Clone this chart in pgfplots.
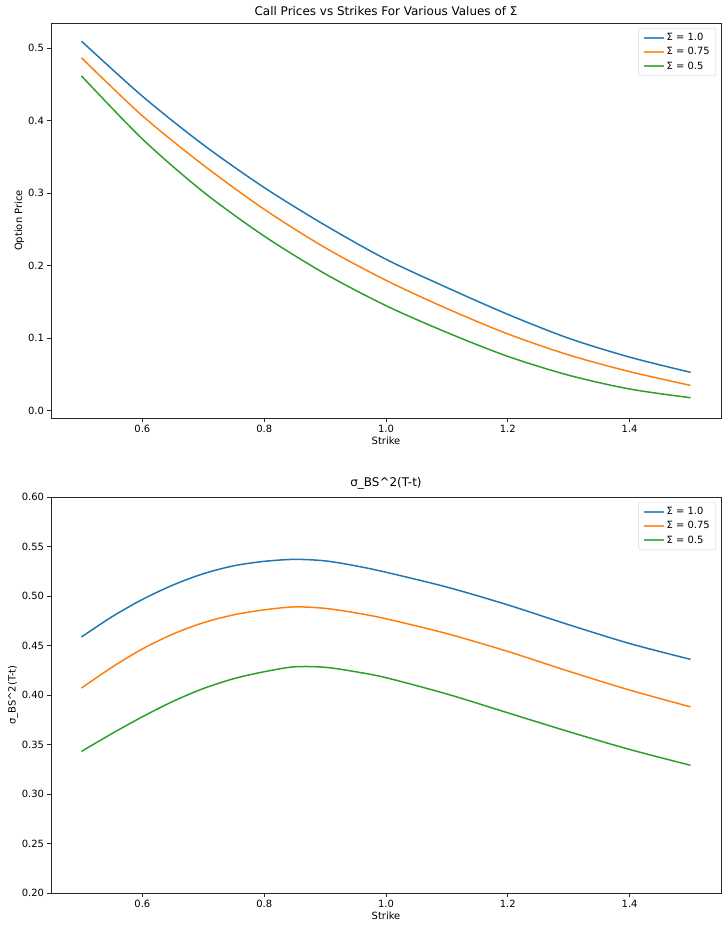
\documentclass[border=0pt]{standalone}
\usepackage{pgfplots}
\pgfplotsset{compat=1.18}
\usepackage{fontspec}
\setmainfont{DejaVu Sans}
\definecolor{tabblue}{HTML}{1F77B4}
\definecolor{taborange}{HTML}{FF7F0E}
\definecolor{tabgreen}{HTML}{2CA02C}
\pgfplotsset{
  mpl/.style={
    scale only axis, width=670bp, height=395bp,
    xmin=0.45, xmax=1.55,
    xtick={0.6,0.8,1.0,1.2,1.4},
    xticklabel style={/pgf/number format/.cd, fixed, fixed zerofill, precision=1},
    xtick pos=bottom, ytick pos=left,
    tick align=outside, major tick length=3.5bp,
    every tick/.style={black!85, line width=0.8bp},
    axis line style={black!85, line width=0.8bp},
    /pgf/number format/assume math mode=true,
    tick label style={font=\fontsize{10}{12}\selectfont},
    label style={font=\fontsize{10}{12}\selectfont},
    title style={font=\fontsize{12}{14}\selectfont, yshift=-2bp},
    xlabel={Strike},
    xlabel style={yshift=2bp},
    legend cell align=left,
    legend style={at={(1,1)}, anchor=north east, xshift=-5bp, yshift=-5bp,
      draw=black!18, rounded corners=2bp, font=\fontsize{10}{12}\selectfont,
      inner xsep=4bp, inner ysep=3bp, row sep=1.5bp},
    legend image code/.code={\draw[#1, line width=2bp, opacity=0.8] (0bp,0bp) -- (20bp,0bp);},
    every axis plot/.append style={line width=1.5bp, smooth, no markers},
  }
}
\begin{document}
\begin{tikzpicture}
\useasboundingbox (-51bp,23bp) rectangle (677bp,-908bp);
\begin{axis}[mpl, at={(0bp,0bp)}, anchor=north west,
  ymin=-0.010, ymax=0.535,
  ytick={0,0.1,0.2,0.3,0.4,0.5},
  yticklabel style={/pgf/number format/.cd, fixed, fixed zerofill, precision=1},
  ylabel={Option Price}, ylabel style={yshift=-3bp},
  title={Call Prices vs Strikes For Various Values of Σ}]
\addplot[tabblue] coordinates {(0.5,0.510) (0.6,0.434) (0.7,0.367) (0.8,0.308) (0.9,0.256) (1.0,0.209) (1.1,0.170) (1.2,0.133) (1.3,0.100) (1.4,0.074) (1.5,0.053)};
\addlegendentry{Σ = 1.0}
\addplot[taborange] coordinates {(0.5,0.487) (0.6,0.407) (0.7,0.339) (0.8,0.278) (0.9,0.225) (1.0,0.180) (1.1,0.141) (1.2,0.106) (1.3,0.077) (1.4,0.054) (1.5,0.035)};
\addlegendentry{Σ = 0.75}
\addplot[tabgreen] coordinates {(0.5,0.462) (0.6,0.375) (0.7,0.302) (0.8,0.241) (0.9,0.189) (1.0,0.145) (1.1,0.108) (1.2,0.075) (1.3,0.049) (1.4,0.030) (1.5,0.018)};
\addlegendentry{Σ = 0.5}
\end{axis}
\begin{axis}[mpl, at={(0bp,-474bp)}, anchor=north west, height=396bp,
  ymin=0.2, ymax=0.6,
  ytick={0.2,0.25,0.3,0.35,0.4,0.45,0.5,0.55,0.6},
  yticklabel style={/pgf/number format/.cd, fixed, fixed zerofill, precision=2},
  ylabel={σ\_BS\textasciicircum2(T-t)}, ylabel style={yshift=-3bp},
  title={σ\_BS\textasciicircum2(T-t)}]
\addplot[tabblue] coordinates {(0.5,0.4586) (0.55,0.479) (0.6,0.4965) (0.65,0.511) (0.7,0.5225) (0.75,0.5305) (0.8,0.535) (0.85,0.537) (0.9,0.5355) (0.95,0.5305) (1.0,0.524) (1.1,0.509) (1.2,0.491) (1.3,0.471) (1.4,0.452) (1.5,0.436)};
\addlegendentry{Σ = 1.0}
\addplot[taborange] coordinates {(0.5,0.407) (0.55,0.428) (0.6,0.4465) (0.65,0.4615) (0.7,0.473) (0.75,0.481) (0.8,0.486) (0.85,0.489) (0.9,0.4875) (0.95,0.483) (1.0,0.477) (1.1,0.462) (1.2,0.444) (1.3,0.424) (1.4,0.405) (1.5,0.388)};
\addlegendentry{Σ = 0.75}
\addplot[tabgreen] coordinates {(0.5,0.343) (0.55,0.361) (0.6,0.378) (0.65,0.3935) (0.7,0.4065) (0.75,0.4165) (0.8,0.4235) (0.85,0.4285) (0.9,0.428) (0.95,0.4235) (1.0,0.4175) (1.1,0.401) (1.2,0.382) (1.3,0.363) (1.4,0.345) (1.5,0.329)};
\addlegendentry{Σ = 0.5}
\end{axis}
\end{tikzpicture}
\end{document}
